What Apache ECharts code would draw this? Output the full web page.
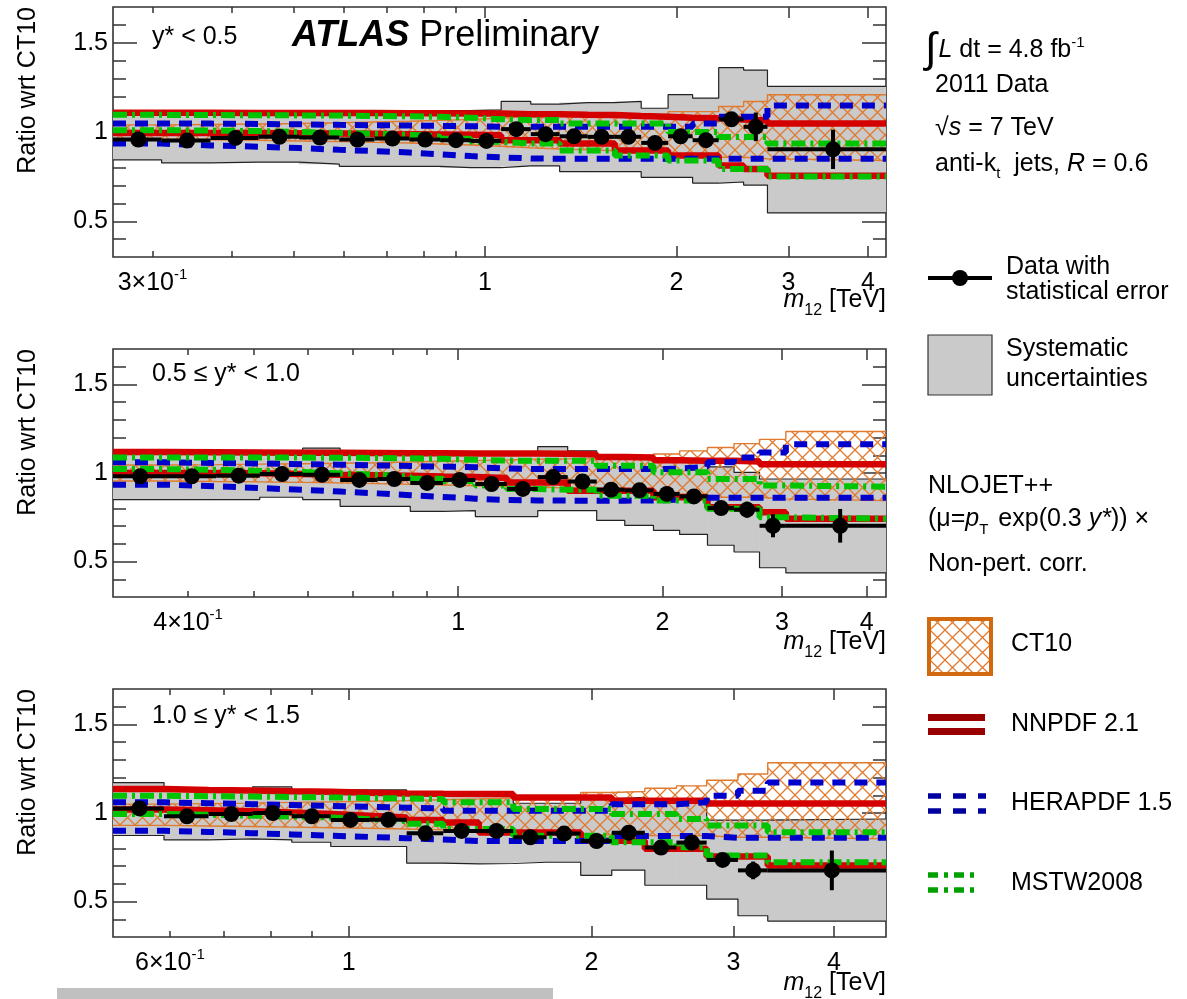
<!DOCTYPE html>
<html>
<head>
<meta charset="utf-8">
<title>Dijet mass ratio to CT10</title>
<script src="https://cdn.jsdelivr.net/npm/echarts@6/dist/echarts.min.js"></script>
<style>
  html, body { margin: 0; padding: 0; background: #fff; }
  #chart { width: 1187px; height: 999px; }
</style>
</head>
<body>
<div id="chart"></div>
<script>
// ---------- data: dijet mass bins (TeV) and ratios to CT10, per rapidity slice ----------

// y* < 0.5
const EDGES_Y05 = [0.26, 0.31, 0.37, 0.44, 0.51, 0.59, 0.67, 0.76, 0.85, 0.95, 1.06, 1.18, 1.31, 1.45, 1.60, 1.76, 1.94, 2.12, 2.33, 2.55, 2.78, 4.27];
const DATA_Y05 = [0.958, 0.952, 0.967, 0.973, 0.969, 0.958, 0.963, 0.958, 0.954, 0.950, 1.016, 0.988, 0.976, 0.973, 0.973, 0.939, 0.976, 0.954, 1.071, 1.029, 0.903];
const STAT_Y05 = [0.006, 0.006, 0.006, 0.006, 0.006, 0.007, 0.007, 0.008, 0.008, 0.009, 0.010, 0.011, 0.012, 0.013, 0.014, 0.016, 0.018, 0.022, 0.030, 0.080, 0.110];
const SYS_LO_Y05 = [0.844, 0.827, 0.831, 0.831, 0.820, 0.808, 0.808, 0.808, 0.800, 0.800, 0.810, 0.810, 0.778, 0.778, 0.778, 0.746, 0.746, 0.714, 0.720, 0.703, 0.547];
const SYS_HI_Y05 = [1.120, 1.120, 1.120, 1.120, 1.120, 1.120, 1.120, 1.120, 1.120, 1.124, 1.171, 1.156, 1.165, 1.165, 1.171, 1.133, 1.209, 1.190, 1.360, 1.347, 1.256];
const CT_LO_Y05 = [0.960, 0.957, 0.954, 0.950, 0.946, 0.942, 0.938, 0.933, 0.927, 0.920, 0.912, 0.905, 0.900, 0.895, 0.890, 0.887, 0.873, 0.873, 0.859, 0.850, 0.840];
const CT_HI_Y05 = [1.040, 1.042, 1.045, 1.048, 1.052, 1.056, 1.060, 1.065, 1.070, 1.078, 1.085, 1.088, 1.090, 1.092, 1.095, 1.095, 1.114, 1.114, 1.143, 1.171, 1.209];
const NN_LO_Y05 = [0.995, 0.995, 0.994, 0.993, 0.992, 0.990, 0.988, 0.986, 0.984, 0.982, 0.954, 0.954, 0.935, 0.935, 0.897, 0.897, 0.869, 0.869, 0.812, 0.793, 0.755];
const NN_HI_Y05 = [1.108, 1.108, 1.107, 1.107, 1.106, 1.106, 1.105, 1.105, 1.104, 1.103, 1.100, 1.100, 1.097, 1.095, 1.090, 1.086, 1.080, 1.077, 1.070, 1.065, 1.048];
const HE_LO_Y05 = [0.935, 0.925, 0.918, 0.910, 0.900, 0.893, 0.885, 0.875, 0.865, 0.858, 0.852, 0.850, 0.850, 0.850, 0.850, 0.850, 0.850, 0.850, 0.850, 0.850, 0.850];
const HE_HI_Y05 = [1.048, 1.047, 1.045, 1.043, 1.040, 1.038, 1.036, 1.034, 1.032, 1.030, 1.030, 1.030, 1.030, 1.030, 1.030, 1.030, 1.030, 1.048, 1.086, 1.086, 1.148];
const MS_LO_Y05 = [1.010, 1.008, 1.005, 1.000, 0.995, 0.990, 0.985, 0.975, 0.962, 0.945, 0.935, 0.935, 0.897, 0.897, 0.869, 0.869, 0.840, 0.840, 0.793, 0.793, 0.751];
const MS_HI_Y05 = [1.096, 1.095, 1.094, 1.093, 1.092, 1.090, 1.088, 1.085, 1.080, 1.072, 1.067, 1.067, 1.048, 1.048, 1.048, 1.048, 1.000, 1.000, 0.972, 0.972, 0.935];

// 0.5 <= y* < 1.0
const EDGES_Y10 = [0.31, 0.37, 0.44, 0.51, 0.59, 0.67, 0.76, 0.85, 0.95, 1.06, 1.18, 1.31, 1.45, 1.60, 1.76, 1.94, 2.12, 2.33, 2.55, 2.78, 3.04, 4.27];
const DATA_Y10 = [0.981, 0.981, 0.985, 0.994, 0.990, 0.961, 0.966, 0.944, 0.961, 0.938, 0.910, 0.977, 0.952, 0.906, 0.902, 0.882, 0.868, 0.802, 0.793, 0.702, 0.702];
const STAT_Y10 = [0.006, 0.006, 0.006, 0.007, 0.007, 0.007, 0.008, 0.008, 0.009, 0.010, 0.011, 0.012, 0.013, 0.014, 0.016, 0.018, 0.020, 0.030, 0.045, 0.065, 0.095];
const SYS_LO_Y10 = [0.850, 0.850, 0.850, 0.863, 0.850, 0.812, 0.812, 0.783, 0.788, 0.754, 0.754, 0.788, 0.788, 0.732, 0.704, 0.676, 0.653, 0.592, 0.554, 0.465, 0.436];
const SYS_HI_Y10 = [1.120, 1.120, 1.120, 1.120, 1.140, 1.120, 1.120, 1.115, 1.115, 1.115, 1.115, 1.149, 1.125, 1.090, 1.085, 1.080, 1.060, 1.035, 1.003, 0.966, 0.966];
const CT_LO_Y10 = [0.955, 0.952, 0.950, 0.947, 0.944, 0.940, 0.936, 0.932, 0.928, 0.924, 0.920, 0.915, 0.912, 0.910, 0.905, 0.882, 0.882, 0.863, 0.863, 0.854, 0.844];
const CT_HI_Y10 = [1.045, 1.047, 1.050, 1.052, 1.055, 1.058, 1.062, 1.066, 1.070, 1.074, 1.078, 1.080, 1.080, 1.080, 1.080, 1.107, 1.125, 1.144, 1.166, 1.190, 1.234];
const NN_LO_Y10 = [1.000, 1.000, 0.998, 0.995, 0.990, 0.987, 0.984, 0.980, 0.977, 0.972, 0.947, 0.947, 0.900, 0.900, 0.900, 0.863, 0.863, 0.807, 0.807, 0.779, 0.742];
const NN_HI_Y10 = [1.118, 1.117, 1.116, 1.115, 1.114, 1.113, 1.112, 1.111, 1.110, 1.110, 1.110, 1.108, 1.105, 1.090, 1.088, 1.072, 1.069, 1.069, 1.065, 1.050, 1.050];
const HE_LO_Y10 = [0.934, 0.925, 0.915, 0.905, 0.895, 0.885, 0.875, 0.865, 0.855, 0.848, 0.845, 0.844, 0.844, 0.844, 0.845, 0.850, 0.860, 0.860, 0.860, 0.860, 0.860];
const HE_HI_Y10 = [1.060, 1.057, 1.054, 1.050, 1.047, 1.043, 1.040, 1.036, 1.033, 1.025, 1.022, 1.022, 1.022, 1.022, 1.022, 1.025, 1.035, 1.060, 1.088, 1.116, 1.163];
const MS_LO_Y10 = [1.022, 1.018, 1.012, 1.005, 0.998, 0.990, 0.980, 0.968, 0.955, 0.930, 0.910, 0.905, 0.905, 0.872, 0.872, 0.845, 0.845, 0.798, 0.798, 0.750, 0.742];
const MS_HI_Y10 = [1.088, 1.088, 1.087, 1.087, 1.086, 1.085, 1.083, 1.080, 1.075, 1.070, 1.069, 1.069, 1.069, 1.041, 1.041, 1.004, 1.004, 0.966, 0.966, 0.929, 0.923];

// 1.0 <= y* < 1.5
const EDGES_Y15 = [0.51, 0.59, 0.67, 0.76, 0.85, 0.95, 1.06, 1.18, 1.31, 1.45, 1.60, 1.76, 1.94, 2.12, 2.33, 2.55, 2.78, 3.04, 3.31, 4.64];
const DATA_Y15 = [1.026, 0.981, 0.994, 1.000, 0.981, 0.961, 0.962, 0.885, 0.899, 0.899, 0.863, 0.884, 0.842, 0.889, 0.805, 0.833, 0.735, 0.676, 0.676];
const STAT_Y15 = [0.006, 0.006, 0.007, 0.007, 0.008, 0.008, 0.009, 0.010, 0.011, 0.012, 0.013, 0.015, 0.017, 0.020, 0.022, 0.025, 0.030, 0.050, 0.112];
const SYS_LO_Y15 = [0.873, 0.848, 0.854, 0.848, 0.835, 0.811, 0.811, 0.717, 0.713, 0.715, 0.722, 0.722, 0.648, 0.678, 0.592, 0.592, 0.514, 0.420, 0.390];
const SYS_HI_Y15 = [1.172, 1.130, 1.130, 1.148, 1.130, 1.130, 1.130, 1.110, 1.100, 1.100, 1.055, 1.055, 1.080, 1.088, 1.060, 1.060, 0.960, 0.960, 0.966];
const CT_LO_Y15 = [0.930, 0.927, 0.924, 0.920, 0.917, 0.914, 0.910, 0.905, 0.900, 0.895, 0.890, 0.880, 0.875, 0.872, 0.872, 0.872, 0.863, 0.863, 0.854];
const CT_HI_Y15 = [1.050, 1.053, 1.056, 1.060, 1.063, 1.066, 1.070, 1.075, 1.080, 1.085, 1.090, 1.100, 1.116, 1.121, 1.140, 1.153, 1.185, 1.220, 1.284];
const NN_LO_Y15 = [1.020, 1.015, 1.010, 1.003, 0.995, 0.985, 0.975, 0.960, 0.947, 0.890, 0.890, 0.890, 0.844, 0.844, 0.798, 0.798, 0.754, 0.754, 0.704];
const NN_HI_Y15 = [1.135, 1.130, 1.127, 1.123, 1.120, 1.115, 1.110, 1.108, 1.107, 1.107, 1.088, 1.088, 1.088, 1.069, 1.069, 1.069, 1.054, 1.054, 1.054];
const HE_LO_Y15 = [0.900, 0.893, 0.886, 0.879, 0.872, 0.865, 0.858, 0.850, 0.842, 0.842, 0.842, 0.842, 0.842, 0.870, 0.870, 0.870, 0.860, 0.860, 0.860];
const HE_HI_Y15 = [1.060, 1.055, 1.050, 1.045, 1.040, 1.035, 1.030, 1.025, 1.013, 1.013, 1.013, 1.013, 1.013, 1.050, 1.050, 1.060, 1.097, 1.125, 1.172];
const MS_LO_Y15 = [0.994, 0.990, 0.985, 0.980, 0.975, 0.965, 0.955, 0.940, 0.910, 0.910, 0.872, 0.872, 0.872, 0.835, 0.835, 0.807, 0.760, 0.760, 0.722];
const MS_HI_Y15 = [1.097, 1.095, 1.093, 1.090, 1.088, 1.085, 1.082, 1.079, 1.060, 1.060, 1.022, 1.022, 1.022, 0.994, 0.994, 0.966, 0.929, 0.929, 0.891];

// axis ranges and tick values
const XRANGE_Y05 = [0.26, 4.27];
const XRANGE_Y10 = [0.31, 4.27];
const XRANGE_Y15 = [0.51, 4.64];
const XLABELS_Y05 = [0.3, 1, 2, 3, 4];
const XLABELS_Y10 = [0.4, 1, 2, 3, 4];
const XLABELS_Y15 = [0.6, 1, 2, 3, 4];
const XMINOR_Y05 = [0.3, 0.4, 0.5, 0.6, 0.7, 0.8, 0.9];
const XMINOR_Y10 = [0.4, 0.5, 0.6, 0.7, 0.8, 0.9];
const XMINOR_Y15 = [0.6, 0.7, 0.8, 0.9];
const XMAJOR = [1, 2, 3, 4];
const YRANGE = [0.3, 1.7];
const YLABELS = [0.5, 1, 1.5];
const YMINOR = [0.4, 0.5, 0.6, 0.7, 0.8, 0.9, 1.0, 1.1, 1.2, 1.3, 1.4, 1.5, 1.6];

// ---------- styling ----------
const FONT = '"Liberation Sans", Arial, Helvetica, sans-serif';
const FRAME = '#333';
const GREY = '#cacaca';
const ORANGE = '#e07a2e';
const RED = '#d40000';
const BLUE = '#0000cc';
const GREEN = '#00c400';

const PANELS = [
  { title: 'y* < 0.5', edges: EDGES_Y05, data: DATA_Y05, stat: STAT_Y05, sysLo: SYS_LO_Y05, sysHi: SYS_HI_Y05,
    ctLo: CT_LO_Y05, ctHi: CT_HI_Y05, nnLo: NN_LO_Y05, nnHi: NN_HI_Y05, heLo: HE_LO_Y05, heHi: HE_HI_Y05,
    msLo: MS_LO_Y05, msHi: MS_HI_Y05, xRange: XRANGE_Y05, xLabels: XLABELS_Y05, xMinor: XMINOR_Y05 },
  { title: '0.5 ≤ y* < 1.0', edges: EDGES_Y10, data: DATA_Y10, stat: STAT_Y10, sysLo: SYS_LO_Y10, sysHi: SYS_HI_Y10,
    ctLo: CT_LO_Y10, ctHi: CT_HI_Y10, nnLo: NN_LO_Y10, nnHi: NN_HI_Y10, heLo: HE_LO_Y10, heHi: HE_HI_Y10,
    msLo: MS_LO_Y10, msHi: MS_HI_Y10, xRange: XRANGE_Y10, xLabels: XLABELS_Y10, xMinor: XMINOR_Y10 },
  { title: '1.0 ≤ y* < 1.5', edges: EDGES_Y15, data: DATA_Y15, stat: STAT_Y15, sysLo: SYS_LO_Y15, sysHi: SYS_HI_Y15,
    ctLo: CT_LO_Y15, ctHi: CT_HI_Y15, nnLo: NN_LO_Y15, nnHi: NN_HI_Y15, heLo: HE_LO_Y15, heHi: HE_HI_Y15,
    msLo: MS_LO_Y15, msHi: MS_HI_Y15, xRange: XRANGE_Y15, xLabels: XLABELS_Y15, xMinor: XMINOR_Y15 }
];

// plot frames: left edge / width shared, vertical placement per panel
const FRAME_LEFT = 113, FRAME_WIDTH = 773;
const LAYOUT = [
  { top: 7, height: 250, titleY: 37, xNameY: 300 },
  { top: 349, height: 248, titleY: 374, xNameY: 642 },
  { top: 689, height: 248, titleY: 716, xNameY: 983 }
];

const lg = Math.log10;

// cross-hatch tile used for the CT10 uncertainty band
function makeHatch(size, color, width) {
  const c = document.createElement('canvas');
  c.width = size; c.height = size;
  const g = c.getContext('2d');
  g.strokeStyle = color; g.lineWidth = width;
  g.beginPath();
  g.moveTo(-1, -1); g.lineTo(size + 1, size + 1);
  g.moveTo(size + 1, -1); g.lineTo(-1, size + 1);
  g.stroke();
  return c;
}
const HATCH = { image: makeHatch(15, ORANGE, 1.3), repeat: 'repeat' };

// histogram helpers (x stored as log10 of mass)
function stepPoints(edges, vals) {
  const pts = vals.map((v, i) => [lg(edges[i]), v]);
  pts.push([lg(edges[edges.length - 1]), vals[vals.length - 1]]);
  return pts;
}
function binRects(edges, lo, hi) {
  return lo.map((l, i) => [lg(edges[i]), lg(edges[i + 1]), l, hi[i]]);
}
function binPoints(edges, vals, errs) {
  return vals.map((v, i) => [lg(edges[i]), lg(edges[i + 1]), lg((edges[i] + edges[i + 1]) / 2), v, errs[i]]);
}

function bandRenderer(fill) {
  return function (params, api) {
    const a = api.coord([api.value(0), api.value(3)]);
    const b = api.coord([api.value(1), api.value(2)]);
    return {
      type: 'rect', silent: true,
      shape: { x: a[0] - 0.3, y: a[1], width: b[0] - a[0] + 0.6, height: b[1] - a[1] },
      style: { fill: fill }
    };
  };
}

function dataRenderer(params, api) {
  const xc = api.value(2), v = api.value(3), e = api.value(4);
  const pl = api.coord([api.value(0), v]);
  const pr = api.coord([api.value(1), v]);
  const pc = api.coord([xc, v]);
  const pt = api.coord([xc, v + e]);
  const pb = api.coord([xc, v - e]);
  return {
    type: 'group', silent: true,
    children: [
      { type: 'line', shape: { x1: pl[0], y1: pl[1], x2: pr[0], y2: pr[1] }, style: { stroke: '#000', lineWidth: 4 } },
      { type: 'line', shape: { x1: pt[0], y1: pt[1], x2: pb[0], y2: pb[1] }, style: { stroke: '#000', lineWidth: 4 } },
      { type: 'circle', shape: { cx: pc[0], cy: pc[1], r: 8 }, style: { fill: '#000' } }
    ]
  };
}

function massLabel(v) {
  const m = Math.round(Math.pow(10, v) * 10) / 10;
  if (m < 1) return '{n|' + Math.round(m * 10) + '×10}{s|-1}';
  return '{n|' + m + '}';
}

const grids = [], xAxes = [], yAxes = [], series = [];

PANELS.forEach((p, i) => {
  const L = LAYOUT[i];
  grids.push({
    left: FRAME_LEFT, top: L.top, width: FRAME_WIDTH, height: L.height,
    show: true, borderColor: FRAME, borderWidth: 1.6, backgroundColor: 'transparent',
    containLabel: false, outerBoundsMode: 'none'
  });
  const xmin = lg(p.xRange[0]), xmax = lg(p.xRange[1]);
  const baseX = (pos, ticks, len, labels) => ({
    gridIndex: i, type: 'value', position: pos, min: xmin, max: xmax, offset: 0,
    axisLine: { show: false, onZero: false },
    splitLine: { show: false },
    axisTick: { show: true, inside: true, length: len, customValues: ticks.map(lg), lineStyle: { color: FRAME, width: 1.5 } },
    axisLabel: labels ? {
      show: true, customValues: labels.map(lg), formatter: massLabel, margin: 10, color: '#000',
      rich: {
        n: { fontSize: 25, fontFamily: FONT, color: '#000', lineHeight: 32, verticalAlign: 'middle' },
        s: { fontSize: 15, fontFamily: FONT, color: '#000', lineHeight: 15, verticalAlign: 'top' }
      }
    } : { show: false }
  });
  xAxes.push(baseX('bottom', XMAJOR, 11, p.xLabels));
  xAxes.push(baseX('bottom', p.xMinor, 6, null));
  xAxes.push(baseX('top', XMAJOR, 11, null));
  xAxes.push(baseX('top', p.xMinor, 6, null));

  const baseY = (pos, ticks, len, labels) => ({
    gridIndex: i, type: 'value', position: pos, min: YRANGE[0], max: YRANGE[1], offset: 0,
    axisLine: { show: false, onZero: false },
    splitLine: { show: false },
    axisTick: { show: true, inside: true, length: len, customValues: ticks, lineStyle: { color: FRAME, width: 1.5 } },
    axisLabel: labels ? {
      show: true, customValues: labels, margin: 5, color: '#000', fontSize: 25, fontFamily: FONT,
      formatter: v => String(Math.round(v * 10) / 10)
    } : { show: false }
  });
  yAxes.push(baseY('left', YLABELS, 24, YLABELS));
  yAxes.push(baseY('left', YMINOR, 13, null));
  yAxes.push(baseY('right', YLABELS, 24, null));
  yAxes.push(baseY('right', YMINOR, 13, null));

  const ax = { xAxisIndex: 4 * i, yAxisIndex: 4 * i };
  const stepLine = (name, vals, color, width, type, z) => Object.assign({
    name: name, type: 'line', step: 'end', symbol: 'none', silent: true, z: z,
    data: stepPoints(p.edges, vals),
    lineStyle: { color: color, width: width, type: type }
  }, ax);

  // systematic uncertainty band on the data
  series.push(Object.assign({
    name: 'Systematic uncertainties', type: 'custom', clip: true, z: 1,
    renderItem: bandRenderer(GREY), encode: { x: [0, 1], y: [2, 3] },
    data: binRects(p.edges, p.sysLo, p.sysHi)
  }, ax));
  series.push(stepLine('sys-hi', p.sysHi, '#222', 1.2, 'solid', 2));
  series.push(stepLine('sys-lo', p.sysLo, '#222', 1.2, 'solid', 2));

  // CT10 uncertainty (hatched)
  series.push(Object.assign({
    name: 'CT10', type: 'custom', clip: true, z: 3,
    renderItem: bandRenderer(HATCH), encode: { x: [0, 1], y: [2, 3] },
    data: binRects(p.edges, p.ctLo, p.ctHi)
  }, ax));
  series.push(stepLine('ct-hi', p.ctHi, ORANGE, 1.4, 'solid', 4));
  series.push(stepLine('ct-lo', p.ctLo, ORANGE, 1.4, 'solid', 4));

  // alternative PDF sets (upper / lower edges of their uncertainty)
  series.push(stepLine('NNPDF 2.1', p.nnHi, RED, 6.5, 'solid', 5));
  series.push(stepLine('NNPDF 2.1', p.nnLo, RED, 6.5, 'solid', 5));
  series.push(stepLine('HERAPDF 1.5', p.heHi, BLUE, 6, [13, 9], 6));
  series.push(stepLine('HERAPDF 1.5', p.heLo, BLUE, 6, [13, 9], 6));
  series.push(stepLine('MSTW2008', p.msHi, GREEN, 6, [14, 5, 3, 5], 7));
  series.push(stepLine('MSTW2008', p.msLo, GREEN, 6, [14, 5, 3, 5], 7));

  // data with statistical error
  series.push(Object.assign({
    name: 'Data', type: 'custom', clip: true, z: 10,
    renderItem: dataRenderer, encode: { x: [0, 1], y: 3 },
    data: binPoints(p.edges, p.data, p.stat)
  }, ax));
});

// ---------- annotations and legend ----------
const TXT = { fontSize: 25, fontFamily: FONT, fill: '#000' };
const graphics = [];

function text(x, y, str, extra) {
  graphics.push({ type: 'text', x: x, y: y, silent: true,
    style: Object.assign({ text: str, verticalAlign: 'middle', align: 'left' }, TXT, extra || {}) });
}

PANELS.forEach((p, i) => {
  const L = LAYOUT[i];
  // y-axis title, reading upward, flush with the top of the frame
  graphics.push({ type: 'text', x: 28, y: L.top, rotation: Math.PI / 2, silent: true,
    style: Object.assign({ text: 'Ratio wrt CT10', align: 'right', verticalAlign: 'middle' }, TXT) });
  text(152, L.titleY, p.title);
  // x-axis title
  text(FRAME_LEFT + FRAME_WIDTH, L.xNameY, '{i|m}{b|12}{n| [TeV]}', {
    align: 'right',
    rich: {
      i: { fontSize: 25, fontFamily: FONT, fontStyle: 'italic', fill: '#000' },
      b: { fontSize: 16, fontFamily: FONT, fill: '#000', verticalAlign: 'bottom', padding: [0, 0, -6, 0] },
      n: { fontSize: 25, fontFamily: FONT, fill: '#000' }
    }
  });
});

text(292, 36, '{a|ATLAS}{p| Preliminary}', {
  rich: {
    a: { fontSize: 36, fontFamily: FONT, fontWeight: 'bold', fontStyle: 'italic', fill: '#000' },
    p: { fontSize: 36, fontFamily: FONT, fill: '#000' }
  }
});

const R = (o) => Object.assign({ fontFamily: FONT, fill: '#000' }, o);
text(925, 50, '{g|∫}{i|L}{n| dt = 4.8 fb}{s|-1}', {
  rich: {
    g: R({ fontSize: 42, padding: [0, 2, 0, 0] }),
    i: R({ fontSize: 25, fontStyle: 'italic' }),
    n: R({ fontSize: 25 }),
    s: R({ fontSize: 15, verticalAlign: 'top', padding: [6, 0, 0, 0] })
  }
});
text(935, 85, '2011 Data');
text(935, 128, '{n|√}{i|s}{n| = 7 TeV}', {
  rich: { n: R({ fontSize: 25 }), i: R({ fontSize: 25, fontStyle: 'italic' }) }
});
text(935, 164, '{n|anti-k}{b|t}{n|  jets, }{i|R}{n| = 0.6}', {
  rich: {
    n: R({ fontSize: 25 }),
    i: R({ fontSize: 25, fontStyle: 'italic' }),
    b: R({ fontSize: 15, verticalAlign: 'bottom', padding: [0, 0, -5, 0] })
  }
});

// legend: data
graphics.push({ type: 'line', silent: true, shape: { x1: 928, y1: 278, x2: 992, y2: 278 }, style: { stroke: '#000', lineWidth: 4 } });
graphics.push({ type: 'circle', silent: true, shape: { cx: 960, cy: 278, r: 8 }, style: { fill: '#000' } });
text(1006, 267, 'Data with');
text(1006, 292, 'statistical error');

// legend: systematics
graphics.push({ type: 'rect', silent: true, shape: { x: 928, y: 335, width: 64, height: 60 }, style: { fill: GREY, stroke: '#333', lineWidth: 1.2 } });
text(1006, 349, 'Systematic');
text(1006, 379, 'uncertainties');

// theory description
text(928, 486, 'NLOJET++');
text(928, 519, '{n|(μ=}{i|p}{b|T}{n| exp(0.3 }{i|y*}{n|)) ×}', {
  rich: {
    n: R({ fontSize: 25 }),
    i: R({ fontSize: 25, fontStyle: 'italic' }),
    b: R({ fontSize: 15, verticalAlign: 'bottom', padding: [0, 3, -6, 0] })
  }
});
text(928, 564, 'Non-pert. corr.');

// legend: CT10
graphics.push({ type: 'rect', silent: true, shape: { x: 929, y: 619, width: 62, height: 55 }, style: { fill: HATCH, stroke: '#d2690f', lineWidth: 4 } });
text(1011, 644, 'CT10');

// legend: NNPDF
graphics.push({ type: 'rect', silent: true, shape: { x: 928, y: 714, width: 57, height: 7 }, style: { fill: '#990000' } });
graphics.push({ type: 'rect', silent: true, shape: { x: 928, y: 728, width: 57, height: 7 }, style: { fill: '#990000' } });
text(1011, 724, 'NNPDF 2.1');

// legend: HERAPDF
[796, 811].forEach(y => graphics.push({ type: 'line', silent: true, shape: { x1: 928, y1: y, x2: 986, y2: y },
  style: { stroke: '#0000a0', lineWidth: 5.5, lineDash: [13, 12] } }));
text(1011, 803, 'HERAPDF 1.5');

// legend: MSTW
[875, 890].forEach(y => graphics.push({ type: 'line', silent: true, shape: { x1: 928, y1: y, x2: 980, y2: y },
  style: { stroke: '#00a000', lineWidth: 5.5, lineDash: [10, 6, 4, 6] } }));
text(1011, 883, 'MSTW2008');

// strip along the lower edge
graphics.push({ type: 'rect', silent: true, shape: { x: 57, y: 988, width: 496, height: 11 }, style: { fill: '#c0c0c0' } });

const chart = echarts.init(document.getElementById('chart'), null, { renderer: 'canvas' });
chart.setOption({
  backgroundColor: '#fff',
  animation: false,
  grid: grids,
  xAxis: xAxes,
  yAxis: yAxes,
  series: series,
  graphic: { elements: graphics }
});
</script>
</body>
</html>
